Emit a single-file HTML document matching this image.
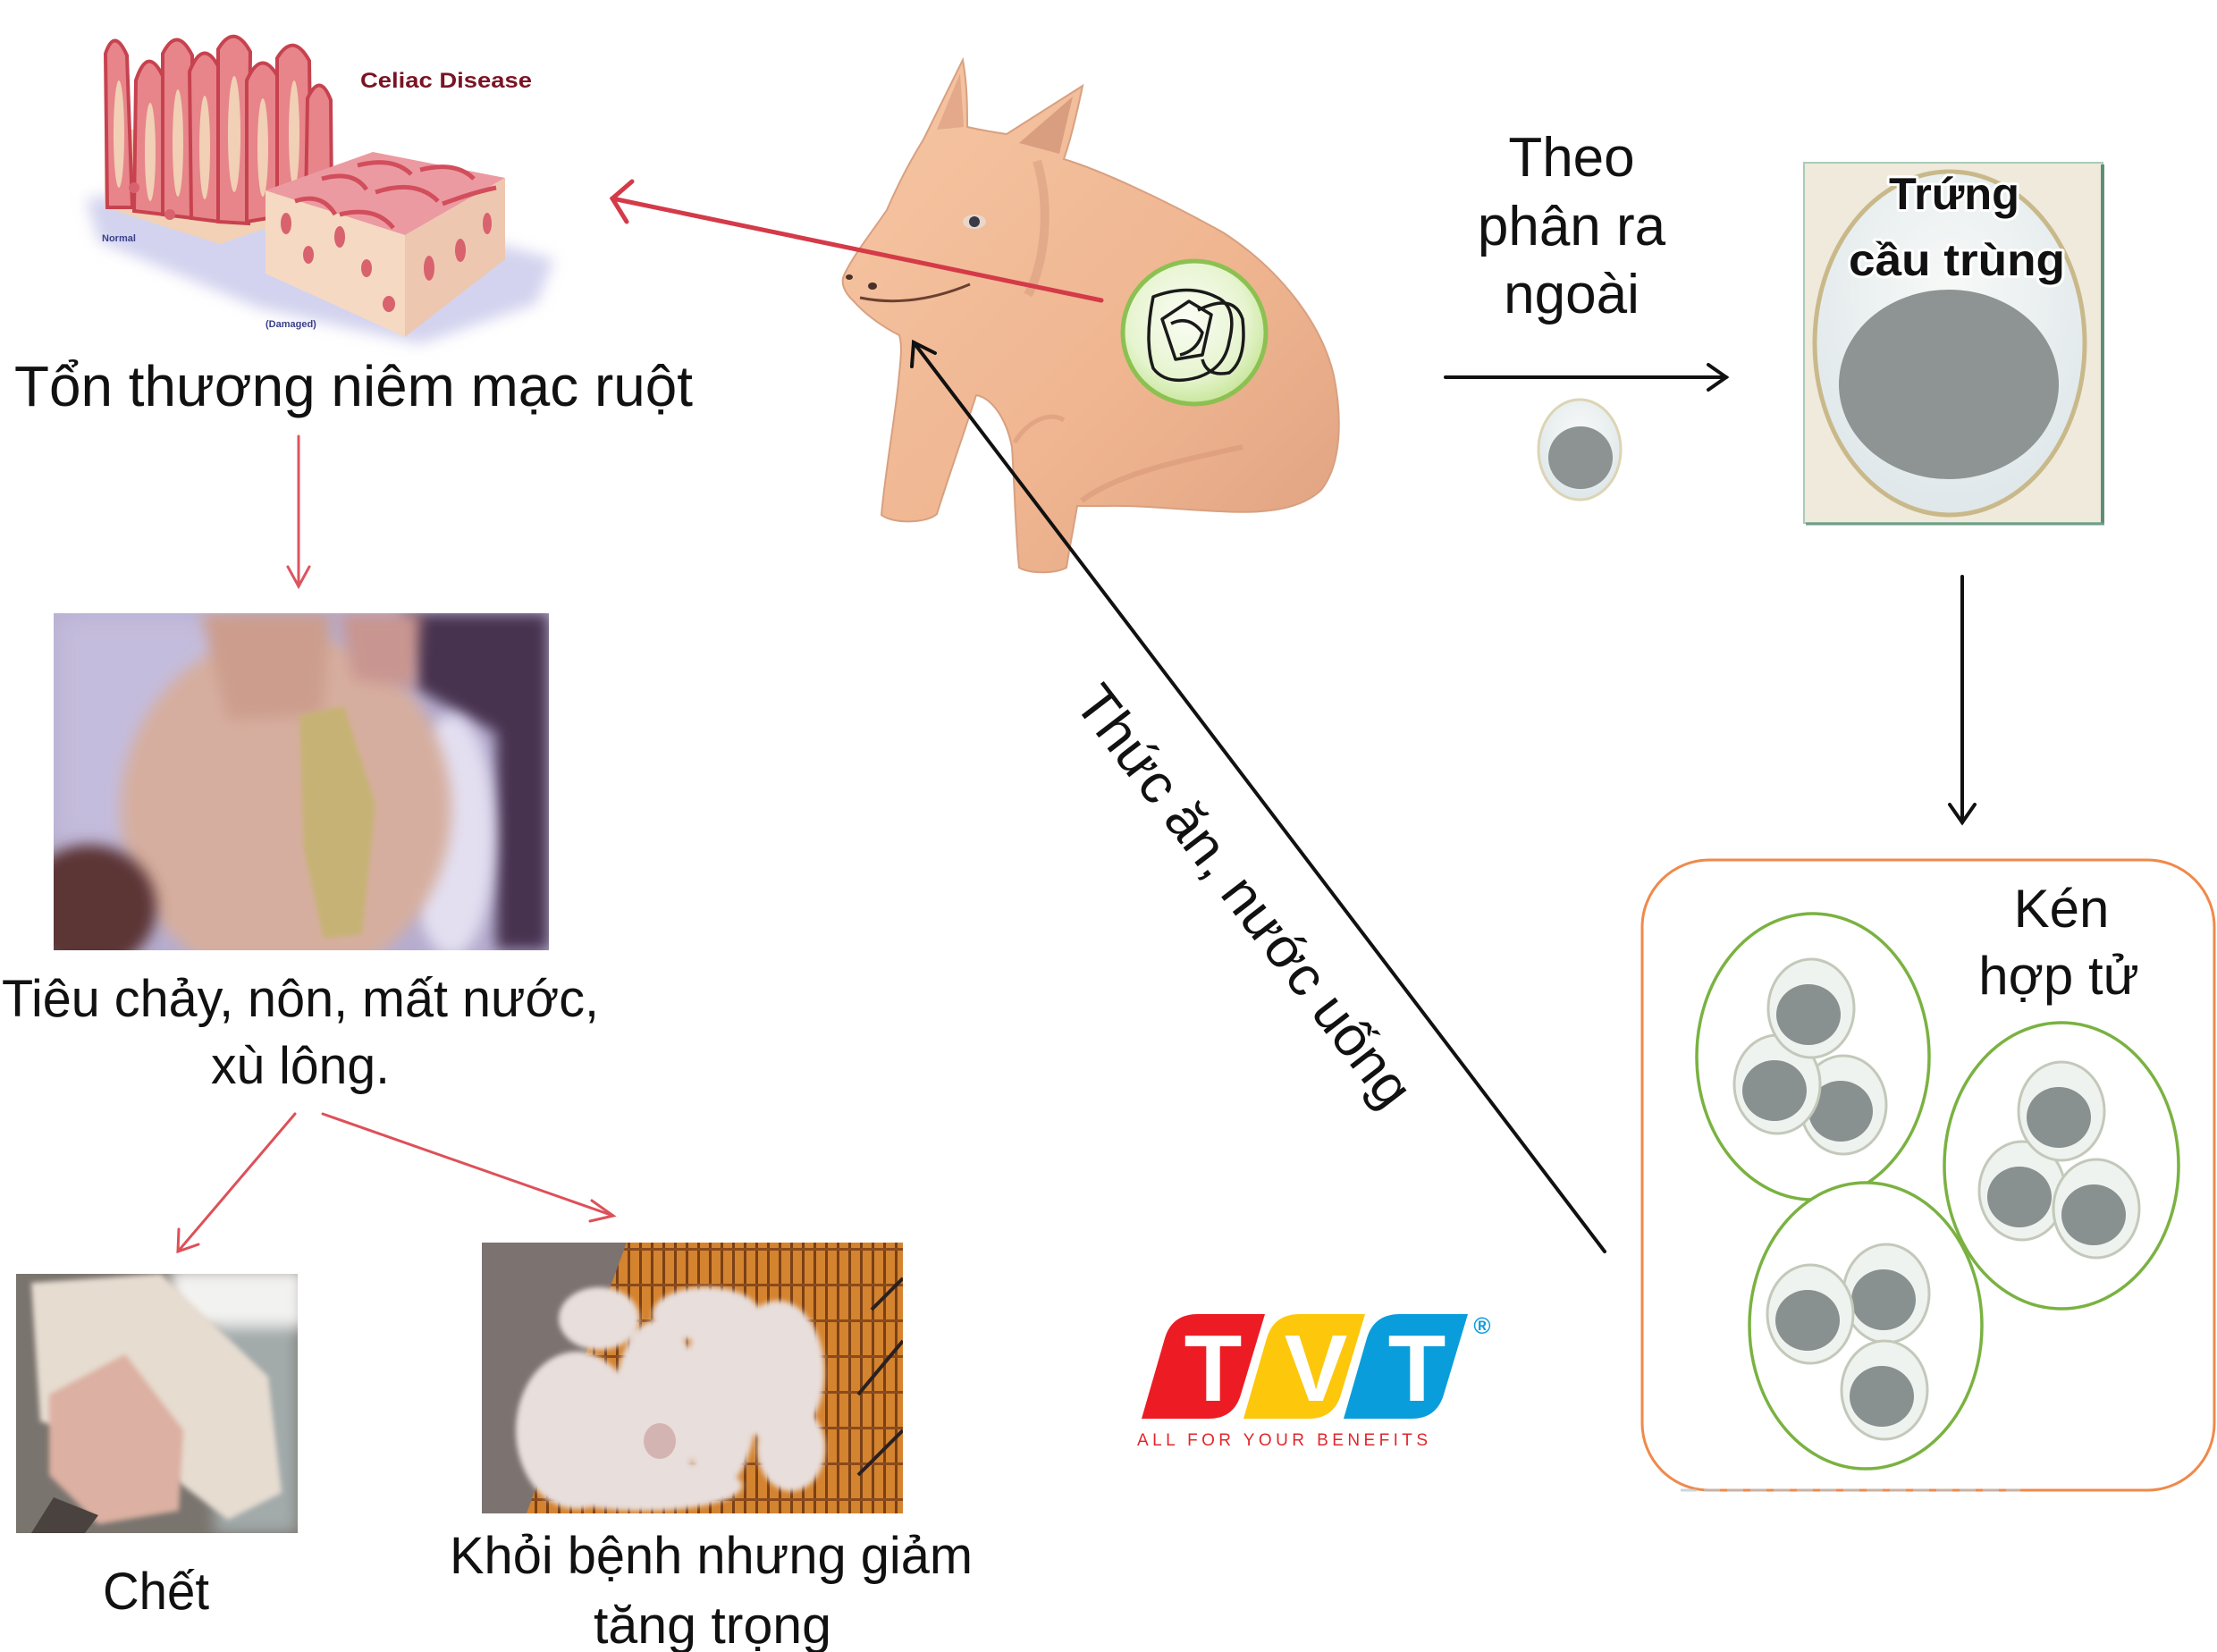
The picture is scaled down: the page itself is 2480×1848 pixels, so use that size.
<!DOCTYPE html>
<html><head><meta charset="utf-8"><style>
html,body{margin:0;padding:0;background:#fff;}
svg{display:block;}
text{font-family:"Liberation Sans",sans-serif;}
</style></head><body>
<svg width="2480" height="1848" viewBox="0 0 2480 1848" xmlns="http://www.w3.org/2000/svg">
<defs>
<filter id="b3" x="-20%" y="-20%" width="140%" height="140%"><feGaussianBlur stdDeviation="3"/></filter>
<filter id="b8" x="-30%" y="-30%" width="160%" height="160%"><feGaussianBlur stdDeviation="8"/></filter>
<filter id="b14" x="-30%" y="-30%" width="160%" height="160%"><feGaussianBlur stdDeviation="14"/></filter>
<linearGradient id="pigg" x1="0" y1="0" x2="1" y2="1"><stop offset="0" stop-color="#f6c6a4"/><stop offset="0.6" stop-color="#efb590"/><stop offset="1" stop-color="#e0a282"/></linearGradient>
<radialGradient id="gc" cx="0.45" cy="0.4" r="0.6"><stop offset="0" stop-color="#fbfdf5"/><stop offset="0.7" stop-color="#e6f4cf"/><stop offset="1" stop-color="#c9e79d"/></radialGradient>
<radialGradient id="eg" cx="0.5" cy="0.35" r="0.65"><stop offset="0" stop-color="#f7f9f7"/><stop offset="1" stop-color="#dfe7ea"/></radialGradient>
<clipPath id="c1"><rect x="60" y="686" width="554" height="377"/></clipPath>
<clipPath id="c2"><rect x="18" y="1425" width="315" height="290"/></clipPath>
<clipPath id="c3"><rect x="539" y="1390" width="471" height="303"/></clipPath>
<pattern id="slat" width="13" height="40" patternUnits="userSpaceOnUse"><rect width="13" height="40" fill="#d4832f"/><rect x="0" width="3" height="40" fill="#7a4016"/><rect y="36" width="13" height="3" fill="#8a4a1c"/></pattern>
<g id="spo"><ellipse cx="0" cy="0" rx="48" ry="55" fill="#eff3ef" stroke="#c3c9ba" stroke-width="3"/><ellipse cx="-3" cy="7" rx="36" ry="34" fill="#899090"/></g>
</defs>
<rect width="2480" height="1848" fill="#fff"/>

<!-- ===== Intestine illustration ===== -->
<g>
<path d="M96,222 L300,200 L620,290 L600,340 L470,385 L290,345 L110,270 Z" fill="#d3d3ef" filter="url(#b8)"/>
<polygon points="117,150 250,128 371,150 371,230 246,273 117,232" fill="#f2d1b6"/>
<g fill="#e7858b" stroke="#c7424f" stroke-width="4">
<path d="M120,232 L118,60 Q128,30 142,62 L148,232 Z"/>
<path d="M150,236 L152,90 Q165,50 182,85 L184,240 Z"/>
<path d="M182,240 L182,60 Q198,28 215,62 L216,244 Z"/>
<path d="M214,244 L212,80 Q228,40 246,78 L246,248 Z"/>
<path d="M244,248 L244,55 Q262,25 280,58 L278,250 Z"/>
<path d="M276,248 L276,90 Q293,52 312,88 L312,242 Z"/>
<path d="M310,240 L310,65 Q328,35 346,68 L348,232 Z"/>
<path d="M342,230 L344,110 Q358,80 370,112 L371,226 Z"/>
</g>
<g fill="#f1d0b5">
<ellipse cx="133" cy="150" rx="6" ry="60"/><ellipse cx="168" cy="170" rx="6" ry="55"/><ellipse cx="199" cy="160" rx="6" ry="60"/><ellipse cx="229" cy="165" rx="6" ry="58"/><ellipse cx="262" cy="150" rx="7" ry="65"/><ellipse cx="294" cy="165" rx="6" ry="55"/><ellipse cx="329" cy="150" rx="6" ry="60"/>
</g>
<polygon points="297,213 417,170 565,199 453,263" fill="#ec9aa1"/>
<polygon points="297,213 453,263 453,377 297,306" fill="#f6d9c2"/>
<polygon points="453,263 565,199 565,290 453,377" fill="#eec7b0"/>
<g fill="none" stroke="#d24e5c" stroke-width="5">
<path d="M330,225 Q360,215 375,240"/><path d="M360,200 Q395,190 410,212"/><path d="M400,185 Q440,175 460,195"/><path d="M380,240 Q420,230 440,255"/><path d="M420,215 Q465,200 490,225"/><path d="M470,190 Q510,180 530,200"/><path d="M495,228 Q530,215 555,210"/>
</g>
<g fill="#d8626e">
<ellipse cx="320" cy="250" rx="6" ry="12"/><ellipse cx="345" cy="285" rx="6" ry="10"/><ellipse cx="380" cy="265" rx="6" ry="12"/><ellipse cx="410" cy="300" rx="6" ry="10"/><ellipse cx="435" cy="340" rx="7" ry="9"/><ellipse cx="480" cy="300" rx="6" ry="14"/><ellipse cx="515" cy="280" rx="6" ry="13"/><ellipse cx="545" cy="250" rx="5" ry="12"/><ellipse cx="150" cy="210" rx="6" ry="6"/><ellipse cx="190" cy="240" rx="6" ry="6"/>
</g>
<text x="114" y="270" font-size="11" font-weight="bold" fill="#3a3f8a">Normal</text>
<text x="297" y="366" font-size="11" font-weight="bold" fill="#3a3f8a">(Damaged)</text>
<text x="403" y="98" font-size="24" font-weight="bold" fill="#7a1424" textLength="192" lengthAdjust="spacingAndGlyphs">Celiac Disease</text>
</g>

<text x="16" y="454" font-size="64" fill="#111" textLength="759" lengthAdjust="spacingAndGlyphs">Tổn thương niêm mạc ruột</text>

<g stroke="#dc5560" stroke-width="3" fill="none" stroke-linecap="round">
<line x1="334" y1="488" x2="334" y2="656"/><polyline points="322,634 334,656 346,634"/>
</g>

<!-- ===== Diarrhea photo ===== -->
<g clip-path="url(#c1)">
<rect x="60" y="686" width="554" height="377" fill="#b6adcf"/>
<rect x="60" y="686" width="200" height="260" fill="#c4bcdc" filter="url(#b14)"/>
<path d="M450,686 L614,686 L614,1063 L555,1063 L555,820 L465,770 Z" fill="#47304f" filter="url(#b8)"/>
<ellipse cx="505" cy="935" rx="48" ry="135" fill="#e3dff1" filter="url(#b8)"/>
<ellipse cx="320" cy="905" rx="185" ry="195" fill="#d6ae9f" filter="url(#b8)"/>
<path d="M225,686 L370,686 L360,800 L255,805 Z" fill="#cc9d8c" filter="url(#b8)"/>
<path d="M380,686 L470,686 L465,770 L395,760 Z" fill="#c99590" filter="url(#b8)"/>
<path d="M335,800 L385,790 L420,900 L405,1045 L362,1050 L340,950 Z" fill="#c6b274" filter="url(#b3)"/>
<ellipse cx="100" cy="1015" rx="75" ry="70" fill="#5c3636" filter="url(#b8)"/>
</g>

<text x="2" y="1137" font-size="58" fill="#111" textLength="668" lengthAdjust="spacingAndGlyphs">Tiêu chảy, nôn, mất nước,</text>
<text x="236" y="1212" font-size="58" fill="#111" textLength="200" lengthAdjust="spacingAndGlyphs">xù lông.</text>

<g stroke="#de5058" stroke-width="3" fill="none" stroke-linecap="round">
<line x1="330" y1="1246" x2="199" y2="1400"/><polyline points="200,1375 199,1400 222,1392"/>
<line x1="361" y1="1246" x2="686" y2="1360"/><polyline points="662,1343 686,1360 660,1366"/>
</g>

<!-- ===== Dead pig photo ===== -->
<g clip-path="url(#c2)">
<rect x="18" y="1425" width="315" height="290" fill="#7a746e"/>
<rect x="240" y="1470" width="93" height="245" fill="#a2aaaa" filter="url(#b8)"/>
<rect x="190" y="1420" width="150" height="65" fill="#f2f2f0" filter="url(#b8)"/>
<path d="M35,1435 L180,1425 L300,1540 L315,1670 L255,1700 L150,1620 L45,1590 Z" fill="#e6dcd0" filter="url(#b3)"/>
<path d="M55,1560 L140,1515 L205,1600 L200,1690 L110,1705 L55,1650 Z" fill="#dcb0a2" filter="url(#b3)"/>
<path d="M60,1675 L110,1695 L95,1715 L35,1715 Z" fill="#4a423e"/>
</g>

<!-- ===== Piglets photo ===== -->
<g clip-path="url(#c3)">
<rect x="539" y="1390" width="471" height="303" fill="url(#slat)"/>
<polygon points="539,1390 701,1390 589,1693 539,1693" fill="#7c7371"/>
<g fill="none" stroke="#2a2020" stroke-width="4"><path d="M1010,1430 L975,1465"/><path d="M1010,1500 L960,1560"/><path d="M1010,1600 L960,1650"/></g>
<g fill="#e8dedb" filter="url(#b3)">
<ellipse cx="645" cy="1600" rx="68" ry="88"/>
<ellipse cx="735" cy="1575" rx="48" ry="98"/>
<ellipse cx="805" cy="1565" rx="42" ry="98"/>
<ellipse cx="870" cy="1535" rx="52" ry="80"/>
<ellipse cx="670" cy="1475" rx="45" ry="35"/>
<ellipse cx="885" cy="1620" rx="38" ry="48"/>
<ellipse cx="720" cy="1662" rx="110" ry="28"/>
<ellipse cx="790" cy="1470" rx="60" ry="30"/>
</g>
<ellipse cx="738" cy="1612" rx="18" ry="20" fill="#d4b4b2"/>
</g>

<text x="115" y="1800" font-size="58" fill="#111" textLength="119" lengthAdjust="spacingAndGlyphs">Chết</text>
<text x="503" y="1760" font-size="58" fill="#111" textLength="585" lengthAdjust="spacingAndGlyphs">Khỏi bệnh nhưng giảm</text>
<text x="664" y="1838" font-size="58" fill="#111" textLength="266" lengthAdjust="spacingAndGlyphs">tăng trọng</text>

<!-- ===== Pig ===== -->
<g>
<path d="M945,306 C955,285 975,260 992,235 C1005,205 1018,180 1033,156 L1077,67 C1082,95 1082,120 1082,142 C1100,146 1112,148 1126,150 L1211,96 C1205,125 1198,155 1190,178 C1230,190 1300,222 1368,260 C1430,300 1478,360 1492,420 C1502,470 1500,520 1478,548 C1455,570 1415,575 1365,572 C1320,570 1275,565 1235,566 L1205,566 C1200,595 1196,615 1193,635 C1180,642 1152,642 1140,635 C1136,595 1135,545 1132,500 C1125,465 1108,445 1092,442 C1080,480 1062,530 1048,575 C1036,586 998,586 986,576 C990,530 1000,475 1005,428 C1007,405 1010,388 1006,375 C988,366 968,352 955,337 C943,326 940,315 945,306 Z" fill="url(#pigg)" stroke="#d8a080" stroke-width="2"/>
<path d="M1048,145 L1074,82 L1078,142 Z" fill="#dc9e82" opacity="0.7"/>
<path d="M1140,160 L1200,108 L1185,172 Z" fill="#c8886e" opacity="0.6"/>
<path d="M1160,180 C1175,230 1170,290 1150,330" stroke="#d99e80" stroke-width="10" fill="none" opacity="0.6"/>
<path d="M1210,560 C1250,530 1320,515 1390,500" stroke="#d99878" stroke-width="6" fill="none" opacity="0.6"/>
<path d="M1135,495 C1150,470 1175,460 1190,470" stroke="#d99878" stroke-width="5" fill="none" opacity="0.6"/>
<ellipse cx="1090" cy="248" rx="13" ry="8" fill="#e8d8cc"/>
<circle cx="1090" cy="248" r="6" fill="#3a3a48"/>
<ellipse cx="950" cy="310" rx="4" ry="3" fill="#4a3028"/>
<ellipse cx="976" cy="320" rx="5" ry="4" fill="#4a3028"/>
<path d="M962,333 Q1020,345 1085,318" stroke="#6a4030" stroke-width="3" fill="none"/>
<circle cx="1336" cy="372" r="80" fill="url(#gc)" stroke="#8cc152" stroke-width="5"/>
<g fill="none" stroke="#1a1a1a" stroke-width="3.5" stroke-linejoin="round">
<path d="M1290,332 Q1330,317 1360,332 Q1385,342 1375,382 Q1370,412 1340,422 Q1305,432 1290,412 Q1280,382 1290,332 Z"/>
<path d="M1300,357 L1330,337 L1355,352 L1345,397 L1315,402 Z"/>
<path d="M1340,347 Q1380,327 1390,357 Q1395,402 1375,417 Q1350,422 1345,402"/>
<path d="M1310,362 Q1330,352 1345,372 Q1340,392 1320,397"/>
</g>
</g>

<g stroke="#d43a48" stroke-width="5" fill="none" stroke-linecap="round">
<line x1="1232" y1="336" x2="685" y2="222"/><polyline points="707,203 685,222 701,248"/>
</g>

<g stroke="#111" stroke-width="4" fill="none" stroke-linecap="round">
<line x1="1795" y1="1400" x2="1022" y2="383"/><polyline points="1020,410 1022,383 1046,395"/>
</g>
<text transform="translate(1375,1015) rotate(52.5)" text-anchor="middle" font-size="62" fill="#111" textLength="575" lengthAdjust="spacingAndGlyphs">Thức ăn, nước uống</text>

<g font-size="62" fill="#111" text-anchor="middle">
<text x="1758" y="197">Theo</text>
<text x="1758" y="274">phân ra</text>
<text x="1758" y="350">ngoài</text>
</g>
<g stroke="#111" stroke-width="4" fill="none" stroke-linecap="round">
<line x1="1617" y1="422" x2="1931" y2="422"/><polyline points="1911,408 1931,422 1911,436"/>
</g>
<ellipse cx="1767" cy="503" rx="46" ry="56" fill="url(#eg)" stroke="#dcd4b4" stroke-width="3"/>
<ellipse cx="1768" cy="512" rx="36" ry="35" fill="#8c9392"/>

<rect x="2018" y="182" width="334" height="403" fill="#efeadb" stroke="#a9cbb8" stroke-width="2"/>
<line x1="2352" y1="184" x2="2352" y2="586" stroke="#5e8f76" stroke-width="4"/>
<line x1="2020" y1="586" x2="2354" y2="586" stroke="#6f9f86" stroke-width="3"/>
<ellipse cx="2181" cy="384" rx="151" ry="192" fill="url(#eg)" stroke="#c9b98a" stroke-width="5"/>
<ellipse cx="2180" cy="430" rx="123" ry="106" fill="#8d9493"/>
<g font-size="50" font-weight="bold" fill="#111" text-anchor="middle" stroke="#fff" stroke-width="6" paint-order="stroke" stroke-linejoin="round">
<text x="2186" y="234" textLength="146" lengthAdjust="spacingAndGlyphs">Trứng</text>
<text x="2189" y="308" textLength="242" lengthAdjust="spacingAndGlyphs">cầu trùng</text>
</g>

<g stroke="#111" stroke-width="4" fill="none" stroke-linecap="round">
<line x1="2195" y1="645" x2="2195" y2="920"/><polyline points="2181,900 2195,920 2209,900"/>
</g>

<rect x="1837" y="962" width="640" height="705" rx="75" ry="75" fill="#fff" stroke="#f0894a" stroke-width="3"/>
<line x1="1880" y1="1667" x2="2260" y2="1667" stroke="#b9c6cc" stroke-width="3" stroke-dasharray="18 8" opacity="0.7"/>
<g font-size="60" fill="#111" text-anchor="middle">
<text x="2306" y="1037">Kén</text>
<text x="2303" y="1112">hợp tử</text>
</g>
<g fill="#fff" stroke="#7ab241" stroke-width="3.5">
<ellipse cx="2028" cy="1182" rx="130" ry="160"/>
<ellipse cx="2306" cy="1304" rx="131" ry="160"/>
<ellipse cx="2087" cy="1483" rx="130" ry="160"/>
</g>
<use href="#spo" x="2062" y="1236"/>
<use href="#spo" x="1988" y="1213"/>
<use href="#spo" x="2026" y="1128"/>
<use href="#spo" x="2262" y="1332"/>
<use href="#spo" x="2306" y="1243"/>
<use href="#spo" x="2345" y="1352"/>
<use href="#spo" x="2110" y="1447"/>
<use href="#spo" x="2025" y="1470"/>
<use href="#spo" x="2108" y="1555"/>

<path d="M1340,1470 L1415,1470 L1388,1560 Q1380,1587 1352,1587 L1277,1587 L1303,1497 Q1311,1470 1340,1470 Z" fill="#ed1c24"/>
<path d="M1454,1470 L1527,1470 L1500,1560 Q1492,1587 1464,1587 L1391,1587 L1417,1497 Q1425,1470 1454,1470 Z" fill="#fdc70c"/>
<path d="M1566,1470 L1642,1470 L1615,1560 Q1607,1587 1579,1587 L1503,1587 L1529,1497 Q1537,1470 1566,1470 Z" fill="#0a9ddb"/>
<g font-size="106" font-weight="bold" fill="#fff" text-anchor="middle">
<text x="1357" y="1567">T</text>
<text x="1472" y="1567">V</text>
<text x="1585" y="1567">T</text>
</g>
<text x="1658" y="1492" font-size="26" font-weight="bold" fill="#0a9ddb" text-anchor="middle">®</text>
<text x="1272" y="1617" font-size="19" fill="#e2262b" textLength="325" lengthAdjust="spacing">ALL FOR YOUR BENEFITS</text>
</svg>
</body></html>
